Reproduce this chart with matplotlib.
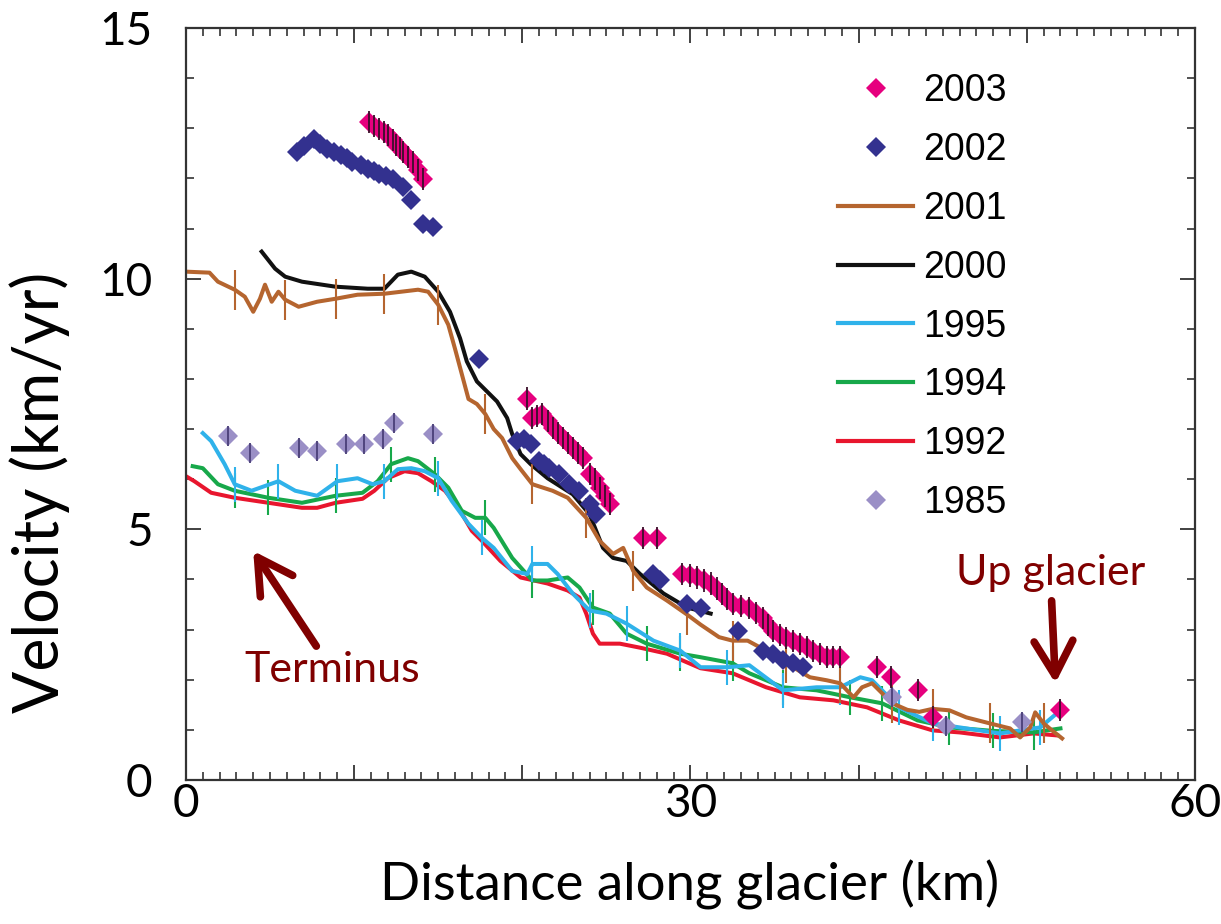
import numpy as np
import matplotlib.pyplot as plt
from matplotlib.lines import Line2D
from matplotlib.ticker import MultipleLocator, FuncFormatter

# ---- data (distance km, velocity km/yr) ----
x2001 = [0, 1.4, 1.9, 2.9, 3.5, 4.0, 4.4, 4.7, 5.1, 5.5, 5.9, 6.7, 7.8, 8.9, 10.2, 11.8,
         13.8, 14.4, 15.0, 15.6, 16.0, 16.4, 16.8, 17.3, 17.8, 18.3, 18.8, 19.4, 19.9,
         20.6, 21.8, 22.7, 23.8, 24.6, 25.4, 26.0, 26.6, 27.4, 28.6, 29.8, 30.6, 31.7,
         32.5, 33.4, 34.5, 35.7, 37.1, 38.1, 38.9, 39.7, 40.2, 40.8, 41.4, 42.0, 42.9,
         43.6, 44.4, 45.4, 46.4, 47.8, 49.0, 49.6, 50.2, 50.5, 51.0, 51.5, 52.1]
v2001 = [10.14, 10.12, 9.94, 9.78, 9.64, 9.34, 9.6, 9.88, 9.54, 9.74, 9.58, 9.44, 9.54,
         9.6, 9.68, 9.7, 9.78, 9.74, 9.48, 9.08, 8.6, 8.1, 7.6, 7.5, 7.3, 7.0, 6.82, 6.42,
         6.2, 5.9, 5.77, 5.63, 5.23, 4.77, 4.51, 4.63, 4.17, 3.84, 3.58, 3.3, 3.1, 2.85,
         2.78, 2.78, 2.58, 2.33, 2.05, 1.99, 1.93, 1.65, 1.85, 1.93, 1.73, 1.53, 1.4,
         1.36, 1.42, 1.39, 1.25, 1.13, 1.03, 0.85, 1.05, 1.35, 1.13, 0.99, 0.83]

x2000 = [4.5, 5.3, 5.9, 6.9, 8.9, 10.8, 11.8, 12.6, 13.4, 14.2, 15.0, 15.7, 16.3, 16.7,
         17.3, 17.9, 18.5, 19.1, 19.4, 19.9, 20.5, 21.5, 23.0, 24.0, 24.8, 25.4, 26.2,
         27.0, 28.4, 29.8, 31.2]
v2000 = [10.54, 10.2, 10.04, 9.94, 9.84, 9.8, 9.8, 10.08, 10.14, 10.04, 9.74, 9.34, 8.81,
         8.35, 7.95, 7.75, 7.55, 7.22, 6.9, 6.5, 6.3, 6.02, 5.7, 5.3, 4.63, 4.43, 4.37,
         4.11, 3.72, 3.44, 3.32]

x1995 = [1.0, 1.5, 2.3, 2.9, 3.9, 5.5, 6.5, 7.8, 9.0, 10.2, 11.1, 11.8, 12.6, 13.4, 14.2,
         15.0, 15.8, 16.8, 17.6, 18.3, 19.4, 20.3, 20.6, 21.5, 22.1, 23.0, 24.0, 25.0,
         26.2, 27.8, 29.4, 30.6, 32.2, 33.5, 35.5, 37.5, 38.9, 40.1, 40.8, 42.4, 44.4,
         46.0, 48.4, 50.8, 51.5, 52.0]
v1995 = [6.92, 6.76, 6.3, 5.9, 5.77, 5.96, 5.77, 5.67, 5.96, 6.02, 5.9, 5.96, 6.2, 6.22,
         6.16, 6.02, 5.57, 5.11, 4.83, 4.63, 4.17, 4.11, 4.31, 4.31, 4.11, 3.72, 3.38,
         3.32, 3.12, 2.78, 2.58, 2.25, 2.25, 2.29, 1.79, 1.85, 1.85, 2.05, 1.99, 1.45,
         1.13, 1.05, 0.93, 1.05, 1.25, 1.39]

x1994 = [0.4, 1.0, 1.9, 2.9, 4.9, 6.9, 8.9, 10.5, 11.4, 12.2, 13.2, 13.8, 14.8, 15.6,
         16.4, 17.2, 17.8, 18.3, 19.4, 20.6, 21.5, 22.7, 23.4, 24.2, 25.2, 26.2, 27.4,
         29.4, 30.6, 32.5, 33.5, 35.5, 37.5, 39.5, 41.4, 43.5, 45.4, 48.0, 50.4, 52.0]
v1994 = [6.26, 6.22, 5.9, 5.77, 5.63, 5.53, 5.67, 5.73, 5.96, 6.3, 6.42, 6.36, 6.1, 5.83,
         5.37, 5.23, 5.23, 5.03, 4.43, 3.98, 3.98, 4.04, 3.84, 3.44, 3.32, 2.92, 2.72,
         2.52, 2.45, 2.33, 2.13, 1.85, 1.79, 1.65, 1.53, 1.19, 1.05, 0.98, 0.95, 1.03]

x1992 = [0, 0.5, 1.5, 2.9, 4.9, 6.9, 7.8, 8.9, 10.5, 11.2, 12.0, 13.0, 13.8, 14.6, 15.4,
         16.2, 17.0, 17.6, 18.7, 19.9, 21.5, 22.7, 23.4, 23.8, 24.2, 24.6, 25.8, 27.0,
         28.6, 30.6, 32.5, 34.5, 36.5, 38.5, 40.5, 42.4, 44.4, 46.0, 48.4, 50.4, 51.8]
v1992 = [6.06, 5.96, 5.73, 5.63, 5.53, 5.43, 5.43, 5.53, 5.61, 5.77, 6.02, 6.16, 6.12,
         5.96, 5.77, 5.43, 4.97, 4.77, 4.37, 4.04, 3.92, 3.78, 3.64, 3.32, 2.92, 2.72,
         2.72, 2.64, 2.52, 2.23, 2.13, 1.85, 1.65, 1.59, 1.45, 1.19, 0.99, 0.95, 0.85,
         0.93, 0.89]

x2003 = [10.9, 11.2, 11.5, 11.8, 12.0, 12.3, 12.5, 12.7, 12.9, 13.2, 13.5, 13.8, 14.1,
         20.3, 20.6, 20.9, 21.2, 21.5, 21.8, 22.1, 22.4, 22.7, 23.0, 23.3, 23.6, 24.0,
         24.3, 24.6, 24.9, 25.2, 27.2, 28.0, 29.5, 30.0, 30.4, 30.8, 31.2, 31.6, 31.9,
         32.2, 32.5, 33.0, 33.5, 33.9, 34.3, 34.6, 34.9, 35.3, 35.7, 36.1, 36.5, 36.9,
         37.3, 37.7, 38.1, 38.5, 38.9, 41.1, 41.9, 43.5, 44.4, 52.0]
v2003 = [13.12, 13.05, 12.98, 12.92, 12.86, 12.76, 12.66, 12.6, 12.52, 12.42, 12.33,
         12.16, 11.99, 7.61, 7.22, 7.26, 7.3, 7.16, 7.02, 6.92, 6.82, 6.72, 6.62, 6.52,
         6.42, 6.1, 6.0, 5.83, 5.66, 5.5, 4.83, 4.83, 4.11, 4.08, 4.04, 3.98, 3.92, 3.82,
         3.72, 3.62, 3.52, 3.48, 3.44, 3.34, 3.24, 3.1, 2.98, 2.9, 2.84, 2.78, 2.72, 2.65,
         2.58, 2.52, 2.45, 2.45, 2.45, 2.25, 2.05, 1.79, 1.25, 1.39]

x2002 = [6.6, 7.0, 7.6, 8.0, 8.4, 8.8, 9.2, 9.6, 9.9, 10.4, 10.8, 11.2, 11.5, 11.9, 12.3,
         12.9, 13.4, 14.1, 14.7, 17.4, 19.7, 20.1, 20.5, 21.0, 21.3, 21.6, 22.2, 22.8,
         23.4, 24.0, 24.4, 27.8, 28.2, 29.8, 30.6, 32.8, 34.3, 34.9, 35.5, 36.1, 36.7]
v2002 = [12.52, 12.65, 12.78, 12.68, 12.58, 12.52, 12.46, 12.4, 12.33, 12.26, 12.19,
         12.14, 12.09, 12.04, 11.99, 11.83, 11.57, 11.09, 11.03, 8.39, 6.76, 6.8, 6.7,
         6.36, 6.3, 6.22, 6.1, 5.9, 5.77, 5.5, 5.3, 4.11, 3.98, 3.52, 3.44, 2.98, 2.58,
         2.52, 2.39, 2.33, 2.25]

x1985 = [2.5, 3.8, 6.7, 7.8, 9.5, 10.6, 11.7, 12.4, 14.7, 42.0, 45.2, 49.7]
v1985 = [6.86, 6.52, 6.62, 6.56, 6.7, 6.7, 6.8, 7.12, 6.9, 1.65, 1.08, 1.15]

# error bar stations along the profiles (km)
bar_km = [2.9, 5.9, 8.9, 11.8, 14.8, 17.8, 20.8, 23.8, 26.8, 29.8, 32.8, 35.8, 38.8,
          41.8, 44.8, 47.8, 50.8]

c2003 = '#e6007e'
c2002 = '#33318f'
c2001 = '#b5652f'
c2000 = '#111111'
c1995 = '#2fb2ea'
c1994 = '#17a84a'
c1992 = '#e8162e'
c1985 = '#9a8fc6'
dark_red = '#800000'

fig = plt.figure(figsize=(12.21, 9.24), dpi=100)
ax = fig.add_axes([0.1523, 0.1558, 0.8264, 0.8139])


def bars(xs, vs, err, color, lw=1.5, z=3):
    xs = np.asarray(xs)
    vs = np.asarray(vs)
    idx = [int(np.argmin(np.abs(xs - b))) for b in bar_km if xs[0] <= b <= xs[-1]]
    ax.vlines(xs[idx], vs[idx] - err, vs[idx] + err, colors=color, lw=lw, zorder=z)


lw = 2.9
ax.plot(x1992, v1992, color=c1992, lw=lw, zorder=2)
ax.plot(x1994, v1994, color=c1994, lw=lw, zorder=2.1)
bars(x1994, v1994, 0.35, c1994, z=2.1)
ax.plot(x1995, v1995, color=c1995, lw=lw, zorder=2.2)
bars(x1995, v1995, 0.35, c1995, z=2.2)
ax.plot(x2000, v2000, color=c2000, lw=lw, zorder=2.3)
ax.plot(x2001, v2001, color=c2001, lw=lw, zorder=2.4)
bars(x2001, v2001, 0.4, c2001, z=2.4)

ms = 10.5
ax.plot(x1985, v1985, 'D', color=c1985, ms=ms, mew=0, zorder=3)
ax.vlines(x1985, np.array(v1985) - 0.2, np.array(v1985) + 0.2, colors='#4a3f78',
          lw=1.3, zorder=3.1)
ax.plot(x2002, v2002, 'D', color=c2002, ms=ms, mew=0, zorder=3.2)
ax.plot(x2003, v2003, 'D', color=c2003, ms=ms, mew=0, zorder=3.3)
ax.vlines(x2003, np.array(v2003) - 0.22, np.array(v2003) + 0.22, colors='#3a0f2a',
          lw=1.3, zorder=3.4)

ax.set_xlim(0, 60)
ax.set_ylim(0, 15)

ax.xaxis.set_major_locator(MultipleLocator(10))
ax.xaxis.set_minor_locator(MultipleLocator(1))
ax.xaxis.set_major_formatter(FuncFormatter(lambda v, p: '%d' % v if v % 30 == 0 else ''))
ax.yaxis.set_major_locator(MultipleLocator(5))
ax.yaxis.set_minor_locator(MultipleLocator(1))
ax.tick_params(which='both', direction='in', top=True, right=True, colors='#333333',
               labelcolor='black')
ax.tick_params(which='major', length=11, width=1.3)
ax.tick_params(which='minor', length=6, width=1.2)
ax.tick_params(axis='y', which='major', pad=24)
ax.tick_params(axis='x', which='major', pad=2)
for lab in ax.get_xticklabels() + ax.get_yticklabels():
    lab.set_fontfamily('Lato')
    lab.set_fontsize(33)
for sp in ax.spines.values():
    sp.set_linewidth(1.6)
    sp.set_color('#333333')

fig.text(40 / 1221, 1 - 492 / 924, 'Velocity (km/yr)', rotation=90, ha='center',
         va='center', fontsize=45, family='Lato')
fig.text(690 / 1221, 1 - 885 / 924, 'Distance along glacier (km)', ha='center',
         va='center', fontsize=38, family='Lato')

# legend
handles = [
    Line2D([], [], ls='none', marker='D', color=c2003, ms=ms, mew=0),
    Line2D([], [], ls='none', marker='D', color=c2002, ms=ms, mew=0),
    Line2D([], [], color=c2001, lw=3),
    Line2D([], [], color=c2000, lw=3),
    Line2D([], [], color=c1995, lw=3),
    Line2D([], [], color=c1994, lw=3),
    Line2D([], [], color=c1992, lw=3),
    Line2D([], [], ls='none', marker='D', color=c1985, ms=ms, mew=0),
]
labels = ['2003', '2002', '2001', '2000', '1995', '1994', '1992', '1985']
ax.legend(handles, labels, loc='upper left', bbox_to_anchor=(0.628, 0.965), frameon=False,
          prop={'family': 'Liberation Sans', 'size': 27}, handlelength=2.0,
          handletextpad=0.27, labelspacing=0.61, borderpad=0, numpoints=1)

# annotations
arrow = dict(arrowstyle='->,head_length=0.8,head_width=0.45', color=dark_red, lw=5.5,
             shrinkB=0)
ax.annotate('Terminus', xy=(4.0, 4.57), xytext=(8.7, 2.19), ha='center', va='center',
            color=dark_red, fontsize=31, family='Lato',
            arrowprops=dict(arrow, shrinkA=2))
ax.annotate('Up glacier', xy=(51.7, 1.93), xytext=(51.4, 4.12), ha='center', va='center',
            color=dark_red, fontsize=31, family='Lato',
            arrowprops=dict(arrow, shrinkA=4))

fig.savefig('out.png', dpi=100)
